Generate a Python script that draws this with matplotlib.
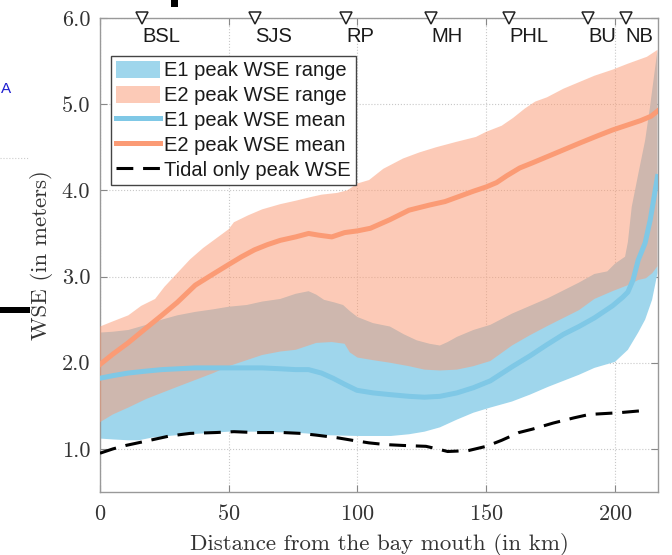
import numpy as np
import matplotlib
matplotlib.use("Agg")
import matplotlib.pyplot as plt
from matplotlib.patches import Rectangle

plt.rcParams['axes.formatter.use_mathtext'] = True

# ----------------------------------------------------
# Data (distance in km, WSE in m)
# ----------------------------------------------------
e1_up_km = [0, 5, 11, 18, 24, 30, 37, 44, 50, 57, 63, 70, 76, 81, 84, 87, 91, 94.4,
            97, 100, 106, 112.6, 118, 123, 128, 132, 135, 138.6, 145, 151.6, 160,
            167, 174, 180, 186, 192, 197, 200, 203.9, 205, 206.5, 209.1, 211.7,
            213.6, 215.3, 216.5]
e1_up = [2.35, 2.36, 2.38, 2.44, 2.50, 2.55, 2.59, 2.62, 2.65, 2.67, 2.71, 2.74,
         2.80, 2.83, 2.79, 2.73, 2.70, 2.67, 2.60, 2.53, 2.46, 2.42, 2.33, 2.26,
         2.22, 2.20, 2.24, 2.30, 2.38, 2.44, 2.57, 2.66, 2.75, 2.84, 2.93, 3.03,
         3.06, 3.15, 3.23, 3.40, 3.81, 4.20, 4.58, 4.97, 5.36, 5.63]

e1_lo_km = [0, 5, 11, 15, 20, 30, 40, 50, 60, 74, 80, 87, 100, 113, 120, 126, 132,
            138.6, 145, 151.6, 160, 167, 174, 180, 186, 192, 200, 205, 209, 211.7,
            214.4, 216.5]
e1_lo = [1.12, 1.11, 1.10, 1.10, 1.13, 1.16, 1.18, 1.20, 1.20, 1.19, 1.18, 1.16,
         1.15, 1.15, 1.17, 1.20, 1.25, 1.34, 1.42, 1.48, 1.55, 1.63, 1.72, 1.79,
         1.86, 1.94, 2.01, 2.15, 2.35, 2.50, 2.73, 3.04]

e2_up_km = [0, 5, 11, 16, 21.4, 25, 30, 35, 40, 45, 50, 52, 57.5, 63, 70, 76, 81.5,
            86, 92, 96, 100, 104.5, 110, 117.7, 124, 130.5, 138, 146, 150, 156,
            160.4, 165, 169, 173.6, 180, 186.4, 192, 199, 205, 212.4, 216.5]
e2_up = [2.42, 2.48, 2.55, 2.66, 2.74, 2.88, 3.04, 3.20, 3.33, 3.44, 3.55, 3.63,
         3.71, 3.78, 3.84, 3.88, 3.92, 3.95, 3.97, 4.00, 4.08, 4.12, 4.25, 4.37,
         4.44, 4.50, 4.56, 4.62, 4.68, 4.75, 4.84, 4.95, 5.03, 5.08, 5.18, 5.26,
         5.33, 5.40, 5.47, 5.55, 5.63]

e2_lo_km = [0, 5, 11, 18, 24, 30, 37, 44, 50, 57, 63, 70, 76, 84, 90, 95, 97, 100,
            106, 112.6, 120, 126, 132, 138.6, 145, 151.6, 160, 167, 174, 180, 186,
            192, 199, 205, 209, 212, 214.5, 216.5]
e2_lo = [1.31, 1.40, 1.48, 1.58, 1.65, 1.72, 1.80, 1.88, 1.96, 2.03, 2.09, 2.13,
         2.15, 2.23, 2.24, 2.22, 2.12, 2.06, 2.03, 2.00, 1.96, 1.92, 1.91, 1.92,
         1.96, 2.02, 2.20, 2.32, 2.43, 2.52, 2.61, 2.74, 2.83, 2.90, 2.96, 2.98,
         3.04, 3.12]

e1_mean_km = [0, 5, 10.9, 17, 24, 37, 50, 63, 70, 76, 81, 86, 90.5, 95, 99.8, 106,
              112.6, 120, 126, 132, 138.6, 145, 151.6, 160.4, 167, 173.6, 180, 186,
              192, 199, 203, 205, 207, 209, 211.7, 213.7, 215, 216.5]
e1_mean = [1.82, 1.85, 1.88, 1.90, 1.92, 1.94, 1.94, 1.94, 1.93, 1.92, 1.92, 1.88,
           1.82, 1.75, 1.68, 1.65, 1.63, 1.61, 1.60, 1.61, 1.65, 1.71, 1.79, 1.96,
           2.08, 2.21, 2.33, 2.42, 2.52, 2.66, 2.76, 2.82, 2.96, 3.19, 3.39, 3.66,
           3.89, 4.16]

e2_mean_km = [0, 5, 10.9, 17, 24, 30, 37, 44, 50, 55, 60, 65, 70, 76, 81, 85, 90,
              95, 100, 105, 112.6, 120, 128, 134, 138.6, 145, 150, 154, 158, 163,
              168, 173.6, 180, 186.4, 193, 199, 205, 210, 214, 216.5]
e2_mean = [1.98, 2.10, 2.23, 2.38, 2.55, 2.70, 2.90, 3.03, 3.14, 3.23, 3.31, 3.37,
           3.42, 3.46, 3.50, 3.48, 3.46, 3.51, 3.53, 3.56, 3.66, 3.77, 3.83, 3.87,
           3.92, 3.99, 4.04, 4.09, 4.17, 4.26, 4.32, 4.39, 4.47, 4.55, 4.63, 4.70,
           4.76, 4.81, 4.86, 4.92]

tidal_km = [0, 5, 10, 19.4, 27, 35, 45, 52, 60, 71, 78, 84, 92, 98, 104.5, 111,
            117.7, 126.6, 131, 135, 143, 150, 156, 162.7, 168, 176, 184, 190, 201.6,
            213]
tidal = [0.95, 1.00, 1.04, 1.10, 1.15, 1.18, 1.19, 1.20, 1.19, 1.19, 1.18, 1.16,
         1.13, 1.10, 1.07, 1.05, 1.04, 1.03, 1.00, 0.97, 0.98, 1.03, 1.10, 1.19,
         1.23, 1.30, 1.36, 1.40, 1.42, 1.45]

stations = ['BSL', 'SJS', 'RP', 'MH', 'PHL', 'BU', 'NB']
station_km = [16.3, 60.2, 95.5, 128.5, 159.0, 189.5, 204.2]

xticks = [0, 50, 100, 150, 200]
yticks = [1.0, 2.0, 3.0, 4.0, 5.0, 6.0]
ytick_labels = ['1.0', '2.0', '3.0', '4.0', '5.0', '6.0']

# colours
c_e1_fill = '#9fd6ec'
c_e2 = '#fb9b75'
c_e1_line = '#7fc8e6'

# ----------------------------------------------------
# Figure
# ----------------------------------------------------
fig = plt.figure(figsize=(6.72, 5.55), dpi=100)
ax = fig.add_axes([100 / 672, 1 - 492 / 555, 558 / 672, 474 / 555])

ax.fill(np.concatenate([e1_up_km, e1_lo_km[::-1]]),
        np.concatenate([e1_up, e1_lo[::-1]]),
        color=c_e1_fill, lw=0, label='E1 peak WSE range', zorder=2)
ax.fill(np.concatenate([e2_up_km, e2_lo_km[::-1]]),
        np.concatenate([e2_up, e2_lo[::-1]]),
        color=c_e2, alpha=0.52, lw=0, label='E2 peak WSE range', zorder=3)
ax.plot(e1_mean_km, e1_mean, color=c_e1_line, lw=3.6,
        label='E1 peak WSE mean', zorder=4)
ax.plot(e2_mean_km, e2_mean, color=c_e2, lw=3.6,
        label='E2 peak WSE mean', zorder=5)
ax.plot(tidal_km, tidal, color='black', lw=2.2, dashes=(5.5, 3.2),
        label='Tidal only peak WSE', zorder=6)

# station markers along the top
ax.plot(station_km, [6.0] * len(station_km), linestyle='none', marker='v',
        markersize=9, markerfacecolor='white', markeredgecolor='#222222',
        markeredgewidth=1.1, clip_on=False, zorder=10)
for name, km in zip(stations, station_km):
    ax.text(km, 5.78, name, ha='left', va='center', fontsize=14.5,
            family='Liberation Sans', color='#1a1a1a', zorder=10)

ax.set_xlim(0, 216.7)
ax.set_ylim(0.5, 6.0)
ax.set_xticks(xticks)
ax.set_yticks(yticks)
ax.set_yticklabels(ytick_labels)
ax.tick_params(direction='in', length=5, color='#888888', top=True, right=True,
               labelsize=16, labelcolor='#333333', labelfontfamily='cmr10')
ax.tick_params(axis='x', pad=9)
ax.tick_params(axis='y', pad=7)
ax.grid(True, linestyle=':', color='#c8c8c8', lw=0.8, zorder=0)
ax.set_axisbelow(True)
for sp in ax.spines.values():
    sp.set_color('#999999')
    sp.set_linewidth(1.0)

ax.set_xlabel('Distance from the bay mouth (in km)', fontsize=16.5,
              family='cmr10', color='#333333', labelpad=6)
ax.set_ylabel('WSE (in meters)', fontsize=16.5, family='cmr10',
              color='#333333', labelpad=6)

leg = ax.legend(loc='upper left', bbox_to_anchor=(0.0197, 0.92),
                borderaxespad=0, prop={'family': 'Liberation Sans', 'size': 14.5},
                frameon=True, fancybox=False, edgecolor='#444444',
                framealpha=1, labelspacing=0.28, handlelength=2.2,
                handleheight=0.9, handletextpad=0.2, borderpad=0.25)
leg.get_frame().set_linewidth(1.0)
for t in leg.get_texts():
    t.set_color('#1a1a1a')

# fragments of neighbouring panels at the crop edges
fig.patches.append(Rectangle((171 / 672, 1 - 7 / 555), 7 / 672, 7 / 555,
                             transform=fig.transFigure, color='black', lw=0))
fig.patches.append(Rectangle((0, 1 - 313 / 555), 30 / 672, 6 / 555,
                             transform=fig.transFigure, color='black', lw=0))
fig.lines.append(plt.Line2D([0, 28 / 672], [1 - 158 / 555, 1 - 158 / 555],
                            transform=fig.transFigure, color='#cccccc',
                            lw=0.8, linestyle=':'))
fig.text(1 / 672, 1 - 89 / 555, 'A', color='#1f1fd0', fontsize=11,
         family='Liberation Sans', ha='left', va='center')

fig.savefig('out.png', dpi=100)
